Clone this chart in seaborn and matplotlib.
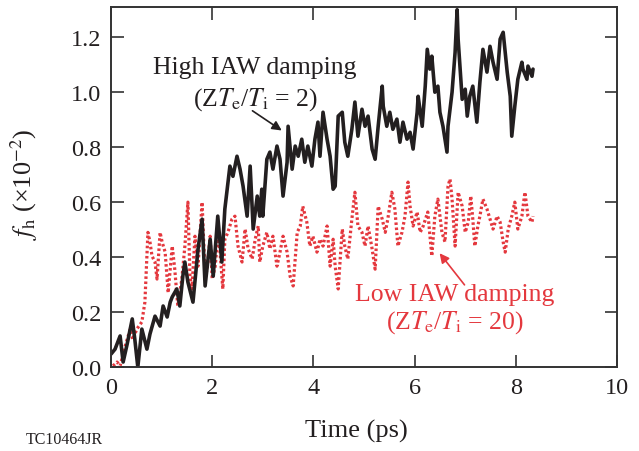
import numpy as np
import pandas as pd
import matplotlib.pyplot as plt
import seaborn as sns

# Data
black_t = [0.00, 0.08, 0.18, 0.24, 0.32, 0.42, 0.47, 0.53, 0.61, 0.71, 0.77, 0.87, 0.97, 1.03,
           1.11, 1.17, 1.21, 1.30, 1.36, 1.42, 1.46, 1.52, 1.62, 1.72, 1.80, 1.86, 1.96, 2.02,
           2.11, 2.19, 2.25, 2.35, 2.41, 2.49, 2.55, 2.61, 2.69, 2.75, 2.81, 2.89, 2.94, 2.98,
           3.00, 3.08, 3.14, 3.20, 3.28, 3.34, 3.40, 3.48, 3.50, 3.58, 3.64, 3.70, 3.77, 3.83,
           3.89, 3.97, 4.03, 4.09, 4.13, 4.19, 4.27, 4.33, 4.39, 4.43, 4.49, 4.57, 4.62, 4.68,
           4.76, 4.82, 4.88, 4.96, 5.02, 5.08, 5.16, 5.22, 5.28, 5.36, 5.38, 5.45, 5.51, 5.57,
           5.65, 5.71, 5.77, 5.85, 5.91, 5.97, 6.05, 6.07, 6.15, 6.21, 6.25, 6.30, 6.34, 6.40,
           6.46, 6.50, 6.56, 6.64, 6.66, 6.74, 6.80, 6.84, 6.86, 6.94, 7.00, 7.04, 7.09, 7.15,
           7.23, 7.29, 7.35, 7.43, 7.49, 7.55, 7.63, 7.69, 7.75, 7.83, 7.89, 7.92, 7.98, 8.04,
           8.12, 8.14, 8.22, 8.24, 8.32, 8.34]
black_f = [0.047, 0.065, 0.113, 0.018, 0.084, 0.175, 0.102, 0.000, 0.138, 0.065, 0.120, 0.185,
           0.149, 0.222, 0.182, 0.236, 0.255, 0.284, 0.222, 0.331, 0.382, 0.309, 0.236, 0.429,
           0.538, 0.295, 0.465, 0.331, 0.549, 0.382, 0.575, 0.731, 0.694, 0.767, 0.720, 0.658,
           0.549, 0.731, 0.502, 0.622, 0.549, 0.647, 0.549, 0.756, 0.782, 0.720, 0.804, 0.756,
           0.622, 0.745, 0.876, 0.720, 0.804, 0.767, 0.829, 0.745, 0.804, 0.731, 0.829, 0.891,
           0.767, 0.927, 0.829, 0.767, 0.647, 0.658, 0.913, 0.927, 0.818, 0.767, 0.865, 0.964,
           0.840, 0.938, 0.876, 0.913, 0.793, 0.756, 0.876, 1.022, 0.949, 0.876, 0.927, 0.865,
           0.902, 0.818, 0.891, 0.829, 0.854, 0.793, 0.927, 0.985, 0.876, 1.022, 1.156, 1.084,
           1.131, 1.000, 1.022, 0.927, 0.876, 0.782, 0.876, 1.000, 1.145, 1.300, 1.193, 0.974,
           1.011, 0.913, 0.985, 1.022, 0.891, 1.036, 1.156, 1.073, 1.167, 1.109, 1.047, 1.193,
           1.218, 1.073, 0.985, 0.840, 0.949, 1.047, 1.109, 1.084, 1.047, 1.095, 1.058, 1.084]

red_t = [0.04, 0.12, 0.18, 0.28, 0.38, 0.43, 0.51, 0.61, 0.67, 0.73, 0.77, 0.81, 0.87, 0.91,
         0.97, 1.01, 1.07, 1.13, 1.21, 1.26, 1.32, 1.40, 1.46, 1.52, 1.56, 1.60, 1.66, 1.72,
         1.80, 1.86, 1.90, 1.96, 2.00, 2.06, 2.11, 2.15, 2.21, 2.25, 2.31, 2.39, 2.45, 2.51,
         2.59, 2.65, 2.71, 2.79, 2.85, 2.91, 2.94, 3.00, 3.08, 3.14, 3.20, 3.28, 3.34, 3.40,
         3.48, 3.54, 3.60, 3.68, 3.74, 3.79, 3.87, 3.93, 3.99, 4.07, 4.13, 4.19, 4.27, 4.33,
         4.39, 4.43, 4.49, 4.57, 4.62, 4.68, 4.76, 4.82, 4.88, 4.96, 5.02, 5.08, 5.16, 5.22,
         5.28, 5.36, 5.42, 5.47, 5.55, 5.61, 5.67, 5.75, 5.81, 5.87, 5.91, 5.97, 6.05, 6.11,
         6.17, 6.26, 6.34, 6.40, 6.46, 6.54, 6.60, 6.66, 6.70, 6.74, 6.80, 6.86, 6.94, 7.00,
         7.06, 7.11, 7.15, 7.19, 7.25, 7.29, 7.35, 7.43, 7.49, 7.55, 7.63, 7.69, 7.75, 7.79,
         7.85, 7.92, 7.98, 8.04, 8.12, 8.18, 8.24, 8.32, 8.34]
red_f = [0.004, 0.018, 0.004, 0.076, 0.138, 0.100, 0.138, 0.164, 0.236, 0.490, 0.455, 0.404,
         0.382, 0.320, 0.490, 0.455, 0.418, 0.270, 0.440, 0.356, 0.222, 0.320, 0.440, 0.600,
         0.330, 0.284, 0.476, 0.367, 0.600, 0.330, 0.356, 0.476, 0.320, 0.367, 0.476, 0.430,
         0.284, 0.465, 0.490, 0.538, 0.549, 0.440, 0.382, 0.502, 0.430, 0.393, 0.465, 0.513,
         0.382, 0.440, 0.490, 0.430, 0.476, 0.367, 0.418, 0.476, 0.418, 0.330, 0.295, 0.490,
         0.513, 0.585, 0.527, 0.440, 0.476, 0.418, 0.465, 0.440, 0.513, 0.367, 0.465, 0.367,
         0.284, 0.502, 0.440, 0.393, 0.538, 0.636, 0.513, 0.490, 0.440, 0.513, 0.430, 0.356,
         0.585, 0.538, 0.490, 0.538, 0.636, 0.575, 0.440, 0.490, 0.549, 0.673, 0.585, 0.513,
         0.564, 0.490, 0.513, 0.564, 0.404, 0.549, 0.611, 0.490, 0.455, 0.658, 0.684, 0.611,
         0.440, 0.636, 0.585, 0.490, 0.527, 0.622, 0.538, 0.440, 0.513, 0.549, 0.611, 0.575,
         0.538, 0.502, 0.549, 0.527, 0.455, 0.418, 0.502, 0.549, 0.600, 0.502, 0.549, 0.636,
         0.549, 0.527, 0.549]

BLACK = "#231f20"
RED = "#e4383e"

sns.set_style("ticks")
plt.rcParams["font.family"] = ["Liberation Serif", "DejaVu Serif"]
plt.rcParams["mathtext.fontset"] = "stix"

high = pd.DataFrame({"t": black_t, "f": black_f})
low = pd.DataFrame({"t": red_t, "f": red_f})

fig = plt.figure(figsize=(6.39, 4.52), dpi=100)
ax = fig.add_axes([0.1737, 0.1858, 0.7919, 0.7965])

sns.lineplot(data=low, x="t", y="f", ax=ax, color=RED, lw=2.3,
             linestyle=(0, (0.8, 0.8)), sort=False, estimator=None)
sns.lineplot(data=high, x="t", y="f", ax=ax, color=BLACK, lw=2.6,
             sort=False, estimator=None)

ax.set_xlim(0, 10)
ax.set_ylim(0, 1.31)
ax.set_xticks([0, 2, 4, 6, 8, 10])
ax.set_yticks([0.0, 0.2, 0.4, 0.6, 0.8, 1.0, 1.2])
ax.set_yticklabels(["0.0", "0.2", "0.4", "0.6", "0.8", "1.0", "1.2"])
ax.tick_params(direction="in", length=9, width=1.2, labelsize=17.5,
               top=True, right=True, pad=7, colors="#333333", labelcolor=BLACK)
for sp in ax.spines.values():
    sp.set_linewidth(1.4)
    sp.set_color("#333333")

ax.set_xlabel("Time (ps)", fontsize=19, color=BLACK)
ax.xaxis.set_label_coords(0.485, -0.145)
ax.set_ylabel(r"$f_\mathrm{h}$ (×10$^{−2}$)", fontsize=19, color=BLACK)
ax.yaxis.set_label_coords(-0.14, 0.51)

ax.text(2.85, 1.09, "High IAW damping", fontsize=18.5, ha="center", va="center", color=BLACK)
ax.text(2.85, 0.975, r"(Z$T_\mathrm{e}$/$T_\mathrm{i}$ = 2)", fontsize=18.5,
        ha="center", va="center", color=BLACK)
ax.annotate("", xy=(3.42, 0.855), xytext=(2.75, 0.938),
            arrowprops=dict(arrowstyle="-|>", color=BLACK, lw=1.2, mutation_scale=14))

ax.text(6.8, 0.265, "Low IAW damping", fontsize=18.5, ha="center", va="center", color=RED)
ax.text(6.8, 0.164, r"(Z$T_\mathrm{e}$/$T_\mathrm{i}$ = 20)", fontsize=18.5,
        ha="center", va="center", color=RED)
ax.annotate("", xy=(6.46, 0.422), xytext=(7.02, 0.291),
            arrowprops=dict(arrowstyle="-|>", color=RED, lw=1.2, mutation_scale=14))

fig.text(0.10, 0.027, "TC10464JR", fontsize=11.5, ha="center", va="center", color=BLACK)

fig.savefig("out.png", dpi=100)
